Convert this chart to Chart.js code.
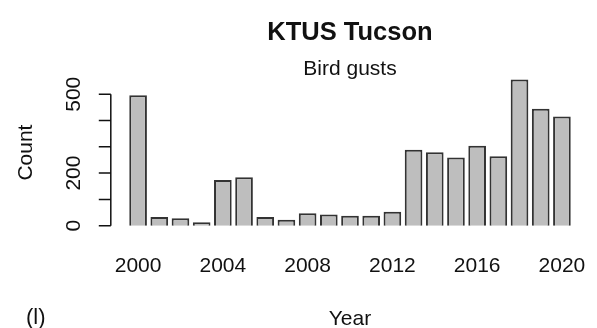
<!DOCTYPE html>
<html>
<head>
<meta charset="utf-8">
<script src="https://cdn.jsdelivr.net/npm/chart.js@4.4.1/dist/chart.umd.min.js"></script>
<style>
  html, body { margin: 0; padding: 0; background: #fff; }
  #wrap { width: 597px; height: 328px; }
</style>
</head>
<body>
<div id="wrap"><canvas id="gusts" width="597" height="328"></canvas></div>
<script>
// Yearly count of bird gusts at KTUS (Tucson)
var years = [2000, 2001, 2002, 2003, 2004, 2005, 2006, 2007, 2008, 2009, 2010,
             2011, 2012, 2013, 2014, 2015, 2016, 2017, 2018, 2019, 2020];
var counts = [496, 33, 28, 13, 174, 184, 33, 22, 47, 42, 38,
              38, 53, 289, 279, 259, 304, 264, 556, 445, 415];

// which years get a label under the bars, and the count axis ticks
var yearLabels = [2000, 2004, 2008, 2012, 2016, 2020];
var countTicks = [0, 100, 200, 300, 400, 500];
var countLabels = [0, 200, 500];

var FONT = "'Liberation Sans', Arial, sans-serif";
var INK = '#111';

// bars are 1 unit wide with 0.2 gaps, axis ranges padded by 4% (like base R barplot)
var barSpace = 0.2;
function barCenter(i) { return barSpace + 0.5 + i * (1 + barSpace); }
var xLo = barSpace;
var xHi = years.length * (1 + barSpace);
var xPad = 0.04 * (xHi - xLo);
var yMax = Math.max.apply(null, counts);
var yPad = 0.04 * yMax;

var barData = years.map(function(yr, i) {
  return { x: barCenter(i), y: counts[i] };
});

// draws the axes, labels and titles by hand so they sit where base graphics puts them
var annotate = {
  id: 'annotate',
  afterDraw: function(chart) {
    var ctx = chart.ctx;
    var xs = chart.scales.x;
    var ys = chart.scales.y;
    var area = chart.chartArea;
    var midX = (area.left + area.right) / 2;
    var axisX = area.left - 0.8;

    ctx.save();
    ctx.fillStyle = INK;
    ctx.strokeStyle = INK;
    ctx.lineWidth = 1.5;

    // left axis line from 0 to 500 with tick marks
    ctx.beginPath();
    ctx.moveTo(axisX, ys.getPixelForValue(countTicks[0]));
    ctx.lineTo(axisX, ys.getPixelForValue(countTicks[countTicks.length - 1]));
    countTicks.forEach(function(v) {
      var py = ys.getPixelForValue(v);
      ctx.moveTo(axisX, py);
      ctx.lineTo(axisX - 12, py);
    });
    ctx.stroke();

    // rotated count labels
    ctx.font = '21px ' + FONT;
    ctx.textAlign = 'center';
    ctx.textBaseline = 'alphabetic';
    countLabels.forEach(function(v) {
      ctx.save();
      ctx.translate(80, ys.getPixelForValue(v));
      ctx.rotate(-Math.PI / 2);
      ctx.fillText(String(v), 0, 0);
      ctx.restore();
    });

    // year labels under the bars
    yearLabels.forEach(function(yr) {
      var px = xs.getPixelForValue(barCenter(years.indexOf(yr)));
      ctx.fillText(String(yr), px, 272);
    });

    // axis titles
    ctx.fillText('Year', midX, 325);
    ctx.save();
    ctx.translate(31.5, (area.top + area.bottom) / 2);
    ctx.rotate(-Math.PI / 2);
    ctx.fillText('Count', 0, 0);
    ctx.restore();

    ctx.textAlign = 'left';
    ctx.font = '22px ' + FONT;
    ctx.fillText('(l)', 26, 324);

    // main title and subtitle
    ctx.textAlign = 'center';
    ctx.font = 'bold 25.5px ' + FONT;
    ctx.fillText('KTUS Tucson', midX, 39.5);
    ctx.font = '21px ' + FONT;
    ctx.fillText('Bird gusts', midX, 75);

    ctx.restore();
  }
};

new Chart(document.getElementById('gusts'), {
  type: 'bar',
  data: {
    datasets: [{
      label: 'Count',
      data: barData,
      backgroundColor: '#BEBEBE',
      borderColor: '#333',
      borderWidth: 2,
      barPercentage: 1 / (1 + barSpace),
      categoryPercentage: 1
    }]
  },
  options: {
    responsive: false,
    animation: false,
    devicePixelRatio: 1,
    layout: {
      padding: { left: 111.6, right: 8.6, top: 73.7, bottom: 96.5 }
    },
    scales: {
      x: {
        type: 'linear',
        display: false,
        offset: false,
        min: xLo - xPad,
        max: xHi + xPad,
        afterBuildTicks: function(scale) {
          scale.ticks = yearLabels.map(function(yr) {
            return { value: barCenter(years.indexOf(yr)) };
          });
        }
      },
      y: {
        type: 'linear',
        display: false,
        min: -yPad,
        max: yMax + yPad,
        afterBuildTicks: function(scale) {
          scale.ticks = countTicks.map(function(v) { return { value: v }; });
        }
      }
    },
    plugins: {
      legend: { display: false },
      tooltip: { enabled: false }
    }
  },
  plugins: [annotate]
});
</script>
</body>
</html>
